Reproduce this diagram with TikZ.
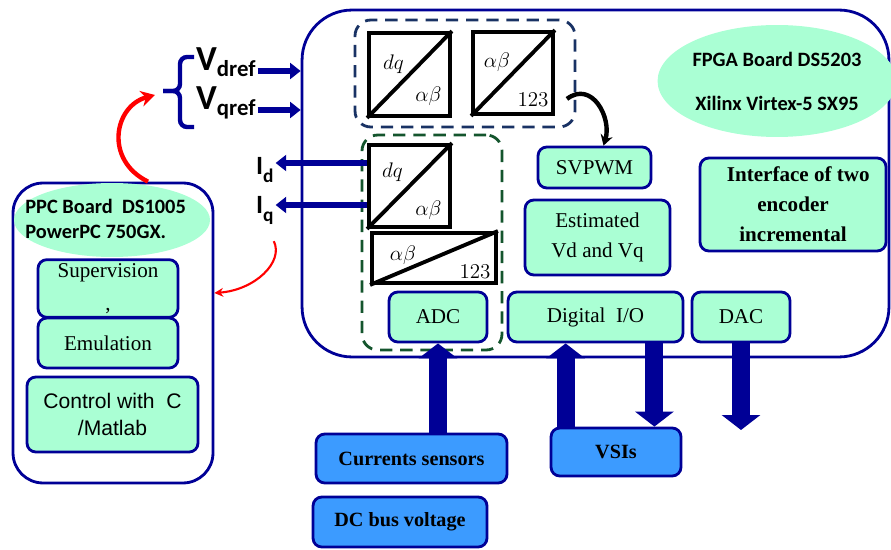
\documentclass[tikz,border=0pt]{standalone}
\usepackage{fontspec}
\setmainfont{Liberation Serif}
\newfontfamily\calib{Carlito}
\newfontfamily\arialf{Liberation Sans}
\usetikzlibrary{arrows.meta,shapes.geometric}

\definecolor{navy}{RGB}{0,0,150}
\definecolor{mint}{RGB}{170,255,212}
\definecolor{skyblue}{RGB}{60,155,255}
\definecolor{dashnavy}{RGB}{25,50,100}
\definecolor{dashgreen}{RGB}{20,85,45}

\begin{document}
\begin{tikzpicture}[
    x=0.02cm, y=-0.02cm,
    font=\fontsize{12}{14}\selectfont,
    board/.style={draw=navy, line width=1.6pt, rounded corners=1cm},
    block/.style={draw=navy, line width=1.6pt, fill=mint, rounded corners=5pt, align=center, inner sep=2pt},
    device/.style={block, fill=skyblue, font=\fontsize{11.5}{14}\selectfont\bfseries},
    group/.style={line width=1.6pt, dash pattern=on 7pt off 4.5pt, rounded corners=9pt},
    conv/.style={draw, line width=2.2pt, fill=white, inner sep=0pt},
    convtext/.style={inner sep=0pt, font=\fontsize{13}{15}\selectfont},
    cell/.style={ellipse, fill=mint, inner sep=0pt, font=\calib\bfseries\fontsize{11.6}{13}\selectfont},
    bigarrow/.style={navy, line width=0.36cm, -{Triangle[length=0.3cm, width=0.76cm]}},
    sig/.style={navy, line width=3pt, -{Triangle[length=6pt, width=9pt]}},
    ref/.style={font=\calib\bfseries, inner sep=1pt}
]
    \useasboundingbox (0,0) rectangle (891,550);

    % boards
    \node[board, minimum width=11.74cm, minimum height=6.94cm] (fpga) at (595.5,183.5) {};
    \node[board, rounded corners=0.6cm, minimum width=4cm, minimum height=6cm] (ppc) at (113,333) {};
    \node[cell, minimum width=4.4cm, minimum height=2.24cm, align=center] (fpgacell) at (777,81)
        {FPGA Board DS5203\\[12pt]Xilinx Virtex-5 SX95};
    \node[cell, minimum width=3.92cm, minimum height=1.48cm] (ppccell) at (112,220) {};
    \node[cell, rectangle, fill=none, anchor=west, align=left] (ppctext) at (25,219)
        {PPC Board~~DS1005\\[1pt]PowerPC 750GX.};

    % transformation groups
    \node[group, draw=dashnavy, minimum width=4.4cm, minimum height=2.14cm] (refgroup) at (465,73.5) {};
    \node[group, draw=dashgreen, minimum width=2.8cm, minimum height=4.3cm] (measgroup) at (432,242.5) {};

    \node[conv, minimum width=1.62cm, minimum height=1.66cm] (sq1) at (409.5,74.5) {};
    \node[conv, minimum width=1.6cm, minimum height=1.64cm] (sq2) at (513,73) {};
    \node[conv, minimum width=1.62cm, minimum height=1.64cm] (sq3) at (409.5,186) {};
    \node[conv, minimum width=2.48cm, minimum height=1cm] (sq4) at (434,258) {};
    \draw[line width=2.2pt] (sq1.south west) -- (sq1.north east);
    \draw[line width=2.2pt] (sq2.south west) -- (sq2.north east);
    \draw[line width=2.2pt] (sq3.south west) -- (sq3.north east);
    \draw[line width=2.2pt] (sq4.south west) -- (sq4.north east);
    \node[convtext] (sq1a) at ([shift={(-16,-10)}]sq1.center) {$dq$};
    \node[convtext] (sq1b) at ([shift={(19,22)}]sq1.center) {$\alpha\beta$};
    \node[convtext] (sq2a) at ([shift={(-16,-11)}]sq2.center) {$\alpha\beta$};
    \node[convtext] (sq2b) at ([shift={(20,27)}]sq2.center) {$123$};
    \node[convtext] (sq3a) at ([shift={(-17,-14)}]sq3.center) {$dq$};
    \node[convtext] (sq3b) at ([shift={(19,24)}]sq3.center) {$\alpha\beta$};
    \node[convtext] (sq4a) at ([shift={(-31,-3)}]sq4.center) {$\alpha\beta$};
    \node[convtext] (sq4b) at ([shift={(41,14)}]sq4.center) {$123$};

    % fpga blocks
    \node[block, minimum width=1.96cm, minimum height=1cm] (adc) at (438,317) {ADC};
    \node[block, minimum width=2.26cm, minimum height=0.82cm] (svpwm) at (594.5,167.5) {SVPWM};
    \node[block, minimum width=2.9cm, minimum height=1.5cm] (est) at (597.5,237.5) {Estimated\\[3pt]Vd and Vq};
    \node[block, minimum width=3.72cm, minimum height=1.86cm, font=\fontsize{12}{14}\selectfont\bfseries] (enc) at (793,204.5)
        {~~Interface of two\\[3pt]encoder\\[3pt]incremental};
    \node[block, minimum width=3.5cm, minimum height=1cm] (dio) at (595.5,317) {Digital~~I/O};
    \node[block, minimum width=1.96cm, minimum height=1cm] (dac) at (741,317) {DAC};

    % ppc blocks
    \node[block, minimum width=2.8cm, minimum height=1.06cm] (sup) at (108,288.5) {Supervision\\[5pt],};
    \node[block, minimum width=2.8cm, minimum height=1cm] (emu) at (108,343) {Emulation};
    \node[block, minimum width=3.42cm, minimum height=1.5cm, font=\arialf\fontsize{12}{14}\selectfont] (ctrl) at (112.5,414.5)
        {Control with~~C\\[1pt]/Matlab};

    % outside devices
    \node[device, minimum width=3.82cm, minimum height=0.98cm] (cs) at (411.5,458.5) {Currents sensors};
    \node[device, minimum width=2.6cm, minimum height=0.96cm] (vsi) at (616,452) {VSIs};
    \node[device, minimum width=3.48cm, minimum height=1cm] (dcbus) at (400,522) {DC bus voltage};
    \coordinate (dacout) at (741,430);

    % references and currents
    \node[ref, anchor=base west] (vd) at (194,71)
        {\fontsize{20}{22}\selectfont V\raisebox{-3pt}{\fontsize{13}{15}\selectfont dref}};
    \node[ref, anchor=base west] (vq) at (194,110)
        {\fontsize{20}{22}\selectfont V\raisebox{-3pt}{\fontsize{13}{15}\selectfont qref}};
    \node[ref, anchor=base west] (id) at (254,175)
        {\fontsize{15}{17}\selectfont I\raisebox{-4pt}{\fontsize{11}{13}\selectfont d}};
    \node[ref, anchor=base west] (iq) at (254,214)
        {\fontsize{15}{17}\selectfont I\raisebox{-4pt}{\fontsize{11}{13}\selectfont q}};
    \draw[navy, line width=2.5pt, rounded corners=4pt] (194,57) -- (180,57) -- (180,91) -- (163,91);
    \draw[navy, line width=2.5pt, rounded corners=4pt] (163,91) -- (180,91) -- (180,127) -- (194,127);
    \coordinate (brace) at (163,91);

    \draw[sig] (vd.base east) -- (vd.base east -| fpga.west);
    \draw[sig] (vq.base east) -- (vq.base east -| fpga.west);
    \draw[sig] ([yshift=0.46cm]sq3.west) -- ([yshift=0.46cm]sq3.west -| id.east);
    \draw[sig] ([yshift=-0.38cm]sq3.west) -- ([yshift=-0.38cm]sq3.west -| iq.east);

    \draw[red, line width=2.5pt, -{Stealth[length=8pt, width=9pt]}]
        ([xshift=0.7cm]ppc.north) .. controls (104,160) and (114,106) .. ([shift={(-8,4)}]brace);
    \draw[red, line width=1.2pt, -{Stealth[length=5pt, width=5pt]}]
        ([shift={(9,15)}]iq.south) .. controls (284,262) and (255,290) .. ([yshift=0.8cm]ppc.east);
    \draw[line width=2.5pt, -{Stealth[length=6pt, width=7pt]}]
        ([shift={(12,-17)}]sq2.south east) .. controls (592,80) and (612,118) .. ([xshift=0.18cm]svpwm.north);

    % block arrows
    \draw[bigarrow] (cs.north -| adc.south) -- (adc.south);
    \draw[bigarrow] ([xshift=0.32cm]vsi.north west) -- ([xshift=0.32cm]vsi.north west |- dio.south);
    \draw[bigarrow] ([xshift=-0.56cm]vsi.north east |- dio.south) -- ([xshift=-0.56cm]vsi.north east);
    \draw[bigarrow] (dac.south) -- (dacout);
\end{tikzpicture}
\end{document}
